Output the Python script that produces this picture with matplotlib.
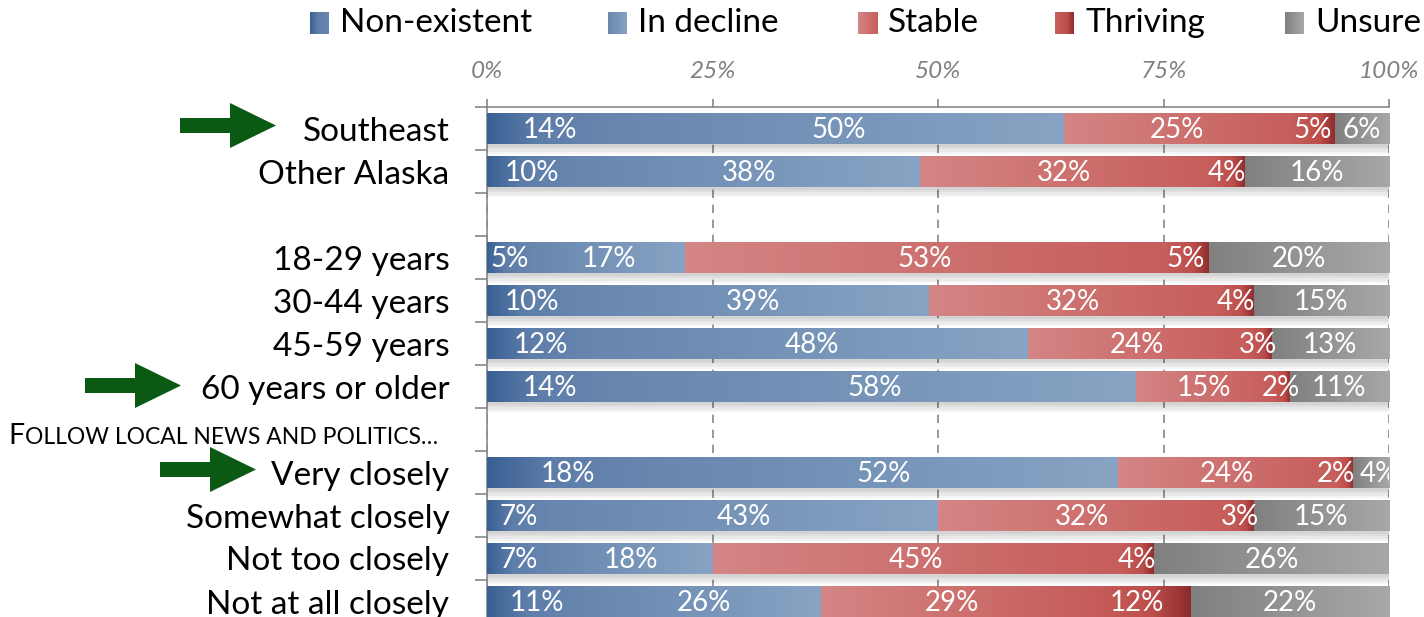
import numpy as np
import matplotlib
matplotlib.use('Agg')
import matplotlib.pyplot as plt
from matplotlib.colors import LinearSegmentedColormap
from matplotlib.patches import Polygon, Rectangle

plt.rcParams['font.family'] = ['Lato', 'DejaVu Sans']

# 数据
rows = ['Southeast', 'Other Alaska', '', '18-29 years', '30-44 years', '45-59 years',
        '60 years or older', '', 'Very closely', 'Somewhat closely', 'Not too closely',
        'Not at all closely']
series = ['Non-existent', 'In decline', 'Stable', 'Thriving', 'Unsure']
non_existent = [14, 10, np.nan, 5, 10, 12, 14, np.nan, 18, 7, 7, 11]
in_decline = [50, 38, np.nan, 17, 39, 48, 58, np.nan, 52, 43, 18, 26]
stable = [25, 32, np.nan, 53, 32, 24, 15, np.nan, 24, 32, 45, 29]
thriving = [5, 4, np.nan, 5, 4, 3, 2, np.nan, 2, 3, 4, 12]
unsure = [6, 16, np.nan, 20, 15, 13, 11, np.nan, 4, 15, 26, 22]
xticks = [0, 25, 50, 75, 100]
xtick_labels = ['0%', '25%', '50%', '75%', '100%']
arrow_rows = [0, 6, 8]
section_title = ('F', 'OLLOW LOCAL NEWS AND POLITICS\u2026')

# 渐变颜色
grad_stops = [
    [(0, '#395f93'), (0.4, '#5e7eaa'), (1, '#6787af')],
    [(0, '#6787af'), (1, '#88a3c3')],
    [(0, '#d48585'), (1, '#c65e5b')],
    [(0, '#c75f5c'), (0.65, '#bd4e4b'), (1, '#8b2b2b')],
    [(0, '#808080'), (1, '#a8a8a8')],
]
cmaps = [LinearSegmentedColormap.from_list('g%d' % i, s) for i, s in enumerate(grad_stops)]
grad = np.linspace(0, 1, 256)[np.newaxis, :]

W, H = 1424, 617
fig = plt.figure(figsize=(W / 100, H / 100), dpi=100)
fig.patch.set_facecolor('white')

row_px = 43
ax_top = 107
ax = fig.add_axes([487 / W, (H - (ax_top + row_px * len(rows))) / H,
                   902 / W, row_px * len(rows) / H])

data = np.array([non_existent, in_decline, stable, thriving, unsure]).T
bar_h = 0.72

row_labels = []
for i, vals in enumerate(data):
    if np.isnan(vals).all():
        continue
    # 阴影
    for k in range(4):
        off = 0.03 * (k + 1)
        ax.add_patch(Rectangle((0, i - bar_h / 2 + off), 100 + 0.1 * k, bar_h + off,
                               facecolor='#000000', alpha=0.045, lw=0, zorder=2))
    left = 0
    labels = []
    for j, v in enumerate(vals):
        ax.imshow(grad, cmap=cmaps[j], aspect='auto', interpolation='bilinear',
                  extent=(left, left + v, i + bar_h / 2, i - bar_h / 2), zorder=3)
        t = ax.text(left + v / 2, i + 0.03, '%d%%' % v, ha='center', va='center',
                    color='white', fontsize=20, clip_on=True, zorder=5)
        labels.append(t)
        left += v
    row_labels.append(labels)

ax.set_xlim(0, 100)
ax.set_ylim(len(rows) - 0.5, -0.5)

# 坐标轴
ax.xaxis.tick_top()
ax.set_xticks(xticks)
ax.set_xticklabels(xtick_labels, fontstyle='italic')
ax.tick_params(axis='x', length=6, width=1.2, color='#888888', pad=12,
               labelsize=17.5, labelcolor='#808080')
ax.set_yticks(np.arange(-0.5, len(rows), 1))
ax.set_yticklabels([])
ax.set_yticks(np.arange(len(rows)), minor=True)
ax.set_yticklabels(rows, minor=True)
ax.tick_params(axis='y', which='major', length=9, width=1.2, color='#888888')
ax.tick_params(axis='y', which='minor', length=0, pad=27, labelsize=24)
for lbl in ax.get_yticklabels(minor=True):
    lbl.set_y(lbl.get_position()[1])
ax.grid(axis='x', color='#888888', linestyle=(0, (5, 4)), linewidth=1.2)
ax.set_axisbelow(True)
for s in ['right', 'bottom']:
    ax.spines[s].set_visible(False)
for s in ['left', 'top']:
    ax.spines[s].set_color('#888888')
    ax.spines[s].set_linewidth(1.2)

# 图例
leg_x = [310, 608, 858, 1055, 1285]
for j, name in enumerate(series):
    sax = fig.add_axes([leg_x[j] / W, 1 - 34 / H, 19 / W, 22 / H])
    sax.imshow(grad, cmap=cmaps[j], aspect='auto', interpolation='bilinear')
    sax.axis('off')
    fig.text((leg_x[j] + 30) / W, 1 - 23 / H, name, fontsize=24, ha='left', va='center')

# 绿色箭头
arrow_x = {0: 180, 6: 85, 8: 160}
arrow_dy = {0: -3, 6: -1, 8: -3}
for r in arrow_rows:
    yc = ax_top + row_px * (r + 0.5) + arrow_dy[r]
    x0 = arrow_x[r]
    pts = [(x0, yc - 7.5), (x0 + 50, yc - 7.5), (x0 + 50, yc - 22.5), (x0 + 96, yc),
           (x0 + 50, yc + 22.5), (x0 + 50, yc + 7.5), (x0, yc + 7.5)]
    pts = [(x / W, 1 - y / H) for x, y in pts]
    fig.patches.append(Polygon(pts, closed=True, facecolor='#0a5a14', edgecolor='none',
                               transform=fig.transFigure, figure=fig))

# 小型大写标题
t1 = fig.text(8 / W, 1 - 444 / H, section_title[0], fontsize=20.5, va='baseline', ha='left')
fig.canvas.draw()
bb = t1.get_window_extent()
fig.text(bb.x1 / W + 0.0005, 1 - 444 / H, section_title[1], fontsize=16.5,
         va='baseline', ha='left')

# 相邻标签重叠时向两侧推开
renderer = fig.canvas.get_renderer()
inv = ax.transData.inverted()
for labels in row_labels:
    for a, b in zip(labels[:-1], labels[1:]):
        ea = a.get_window_extent(renderer)
        eb = b.get_window_extent(renderer)
        gap = eb.x0 - ea.x1
        if gap < 4:
            shift = (4 - gap) / 2
            dx = inv.transform((shift, 0))[0] - inv.transform((0, 0))[0]
            xa, ya = a.get_position()
            xb, yb = b.get_position()
            a.set_position((xa - dx, ya))
            b.set_position((xb + dx, yb))

fig.savefig('out.png', dpi=100)
